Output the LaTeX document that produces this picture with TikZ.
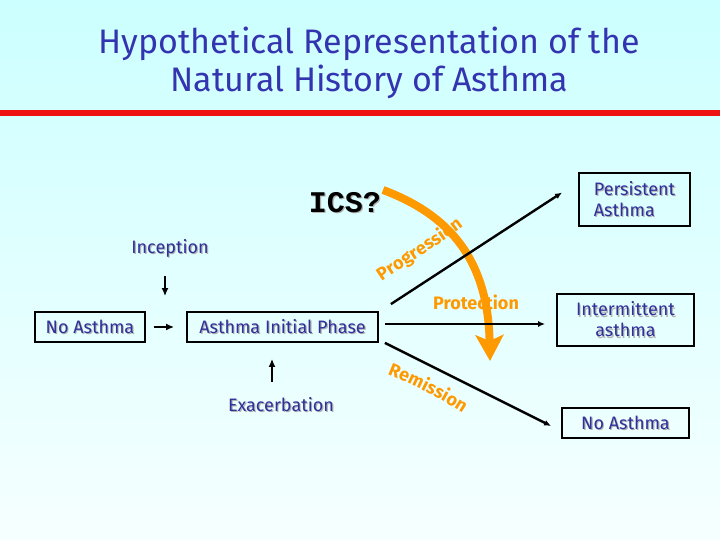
\documentclass[tikz,border=0pt]{standalone}
\usepackage{fontspec}
\setmainfont{Fira Sans}
\newfontfamily\icsfont{Liberation Mono}
\usetikzlibrary{arrows.meta,decorations.text}
\definecolor{slidetop}{HTML}{CCFFFF}
\definecolor{slidebottom}{HTML}{F6FFFF}
\definecolor{titleblue}{HTML}{3434B0}
\definecolor{stageblue}{HTML}{30309A}
\definecolor{pathorange}{HTML}{FF9900}
\definecolor{ruler}{HTML}{EE1111}
\newcommand{\shadowed}[1]{\makebox[0pt][l]{\color{black!30}\raisebox{-1.2pt}{\hspace{1.2pt}#1}}#1}

\begin{document}
\begin{tikzpicture}[x=1pt,y=-1pt,
    stage/.style={draw=black,line width=1.8pt,inner sep=0pt,text=stageblue,
      font=\fontsize{18}{21}\selectfont},
    cause/.style={text=stageblue,font=\fontsize{18}{21}\selectfont},
    flow/.style={line width=2.4pt,-{Latex[length=7pt,width=6pt]}},
    feed/.style={line width=2.8pt,-{Latex[length=8pt,width=7pt]}}]
  % slide background, title and rule
  \shade[top color=slidetop,bottom color=slidebottom] (0,0) rectangle (720,540);
  \node[text=titleblue,font=\fontsize{34}{38}\selectfont,align=center] (title) at (369,63)
    {Hypothetical Representation of the\\Natural History of Asthma};
  \fill[ruler] (0,110) rectangle (720,116);

  % stages of the disease
  \node[stage,minimum width=110pt,minimum height=30pt] (noa) at (90,327) {\shadowed{No Asthma}};
  \node[stage,minimum width=191pt,minimum height=30pt] (init) at (282.5,327) {\shadowed{Asthma Initial Phase}};
  \node[stage,minimum width=111pt,minimum height=53pt,align=left] (persist) at (634.5,199.5)
    {\shadowed{Persistent}\\\shadowed{Asthma}};
  \node[stage,minimum width=137pt,minimum height=52pt,align=center] (inter) at (625.5,320)
    {\shadowed{Intermittent}\\\shadowed{asthma}};
  \node[stage,minimum width=127pt,minimum height=30pt] (noend) at (625.5,423) {\shadowed{No Asthma}};

  \node[cause] (incep) at (170,249) {\shadowed{Inception}};
  \node[cause] (exac) at (281,405) {\shadowed{Exacerbation}};
  \node[font=\icsfont\bfseries\fontsize{30}{30}\selectfont] (ics) at (345,203) {\shadowed{ICS?}};
  \node[text=pathorange,font=\bfseries\fontsize{18}{18}\selectfont] (protect) at (476,302) {Protection};

  % labels bent along the treatment effect
  \path[decorate,decoration={text along path,text align=center,text color=pathorange,
      text={|\bfseries\fontsize{18}{18}\selectfont|Progression}}]
    (379,283) .. controls (408,263) and (435,248) .. (466,224);
  \path[decorate,decoration={text along path,text align=center,text color=pathorange,
      text={|\bfseries\fontsize{18}{18}\selectfont|Remission}}]
    (386,374) .. controls (411,384) and (438,397) .. (464,414);

  % treatment arc
  \draw[pathorange,line width=8pt,-{Stealth[length=26pt,width=28pt,inset=6pt]}]
    (383,190) .. controls (450,215) and (488,260) .. (490,361);

  % transitions
  \draw[feed,shorten <=14pt,shorten >=15pt] ([xshift=-5pt]incep.south) -- ([xshift=-5pt]incep.south |- init.north);
  \draw[feed,shorten <=12pt,shorten >=16pt] ([xshift=-9pt]exac.north) -- ([xshift=-9pt]exac.north |- init.south);
  \draw[feed,shorten <=8pt,shorten >=12pt] (noa) -- (init);
  \draw[flow] ([xshift=12pt,yshift=7pt]init.north east) -- ([xshift=-16pt,yshift=7pt]persist.west);
  \draw[flow] ([xshift=6pt,yshift=3pt]init.east) -- ([xshift=-11pt,yshift=3pt]init.east -| inter.west);
  \draw[flow] ([xshift=6pt]init.south east) -- ([xshift=-10pt,yshift=-3pt]noend.west);
\end{tikzpicture}
\end{document}
